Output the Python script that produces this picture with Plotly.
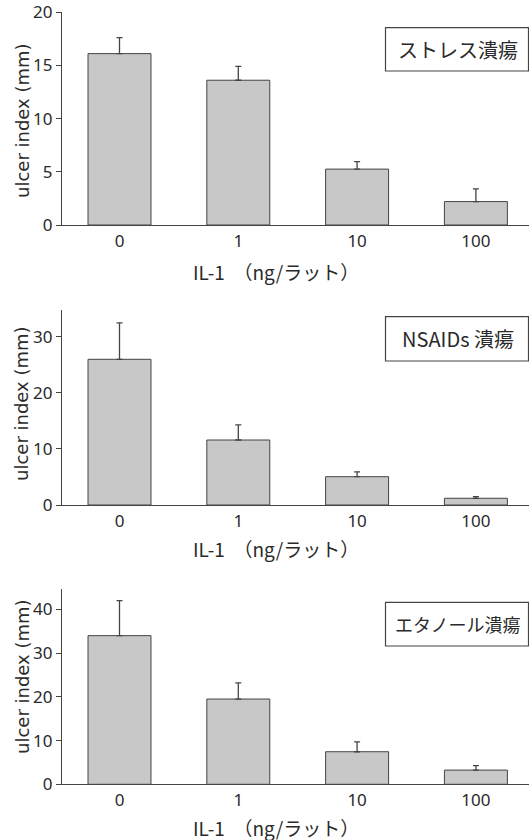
import plotly.graph_objects as go

doses = ["0", "1", "10", "100"]
x_pos = [0, 1, 2, 3]

stress_mean = [16.1, 13.6, 5.25, 2.2]
stress_sem = [1.5, 1.3, 0.7, 1.2]
nsaids_mean = [26.0, 11.6, 5.05, 1.2]
nsaids_sem = [6.5, 2.7, 0.85, 0.3]
ethanol_mean = [34.0, 19.5, 7.45, 3.25]
ethanol_sem = [8.0, 3.7, 2.25, 1.0]

panel_labels = ["ストレス潰瘍", "NSAIDs 潰瘍", "エタノール潰瘍"]
y_title = "ulcer index (mm)"
x_title = "IL-1  （ng/ラット）"

W, H = 529, 840
L = 62
FONT = "Noto Sans CJK JP"
TFONT = "Noto Sans"
YFONT = "DejaVu Sans"
INK = "#2a2a2a"
BAR = "#c8c8c8"


def py(p):
    return (H - p) / H


def px(p):
    return (p - L) / (W - L)


# pixel geometry of each panel: (top, bottom, y-range max, tick step)
panels = [
    (12, 225, 20.01, 5),
    (310, 505, 34.8, 10),
    (589.3, 784.3, 44.6, 10),
]
means = [stress_mean, nsaids_mean, ethanol_mean]
sems = [stress_sem, nsaids_sem, ethanol_sem]

fig = go.Figure()
annotations = []
shapes = []
box_px = [(27.7, 71), (316.7, 361), (602.3, 646)]
label_sizes = [20, 20, 18]

for i, (top, bot, ymax, step) in enumerate(panels):
    n = "" if i == 0 else str(i + 1)
    fig.add_trace(go.Bar(
        x=x_pos, y=means[i], width=0.53,
        marker=dict(color=BAR, line=dict(color="#444444", width=1)),
        error_y=dict(type="data", symmetric=False, array=sems[i],
                     arrayminus=[0] * 4, color="#444444", thickness=1.3, width=3),
        xaxis="x" + n, yaxis="y" + n, showlegend=False,
    ))
    fig.layout["xaxis" + n] = dict(
        domain=[0, 1], range=[-0.484, 3.447], anchor="y" + n,
        tickvals=x_pos, ticktext=doses, ticks="", showgrid=False, zeroline=False,
        showline=True, linecolor="#444444", linewidth=1.3, automargin=False,
        tickfont=dict(family=TFONT, size=17, color=INK),
    )
    fig.layout["yaxis" + n] = dict(
        domain=[py(bot), py(top)], range=[0, ymax], anchor="x" + n,
        dtick=step, tick0=0, ticks="outside", ticklen=5, tickwidth=1.2, tickcolor="#444444",
        showgrid=False, zeroline=False, showline=True, linecolor="#444444", linewidth=1.3,
        tickfont=dict(family=TFONT, size=17, color=INK), ticklabeloverflow="allow",
        automargin=False,
    )
    # y-title
    ymid = [121, 404, 677][i]
    annotations.append(dict(
        text=y_title, textangle=-90, xref="paper", yref="paper",
        x=px(22), y=py(ymid), xanchor="center", yanchor="middle", showarrow=False,
        font=dict(family=YFONT, size=18, color=INK),
    ))
    # x-title
    xt = [272, 548, 827][i]
    annotations.append(dict(
        text=x_title, xref="paper", yref="paper",
        x=px(276), y=py(xt), xanchor="center", yanchor="middle", showarrow=False,
        font=dict(family=FONT, size=19, color=INK),
    ))
    # label box
    b0, b1 = box_px[i]
    shapes.append(dict(type="rect", xref="paper", yref="paper",
                       x0=px(385.5), x1=px(528.5), y0=py(b1), y1=py(b0),
                       line=dict(color="#444444", width=1.2), fillcolor="rgba(0,0,0,0)"))
    annotations.append(dict(
        text=panel_labels[i], xref="paper", yref="paper",
        x=px(457.5), y=py((b0 + b1) / 2), xanchor="center", yanchor="middle",
        showarrow=False, font=dict(family=FONT, size=label_sizes[i], color=INK),
    ))

fig.update_layout(
    width=W, height=H,
    margin=dict(l=L, r=0, t=0, b=0, autoexpand=False),
    paper_bgcolor="white", plot_bgcolor="white",
    annotations=annotations, shapes=shapes,
)

fig.write_html("out.html")
